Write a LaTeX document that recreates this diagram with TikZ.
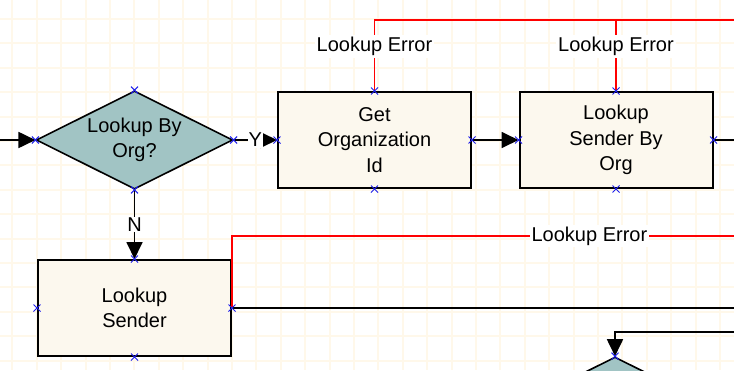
\documentclass[tikz,border=0pt]{standalone}
\usepackage{fontspec}
\setmainfont{Liberation Sans}
\usetikzlibrary{arrows.meta,shapes.geometric}

\definecolor{gridc}{RGB}{255,248,234}
\definecolor{boxfill}{RGB}{252,248,238}
\definecolor{decfill}{RGB}{161,196,196}
\definecolor{markc}{RGB}{30,30,235}
\definecolor{errc}{RGB}{255,0,0}

\begin{document}
\begin{tikzpicture}[x=1pt,y=-1pt,
  font=\fontsize{20}{25.5}\selectfont,
  stepbox/.style={draw=black, line width=2pt, fill=boxfill, rectangle,
    minimum width=193pt, minimum height=96pt, inner sep=0pt, align=center},
  decision/.style={draw=black, line width=1.6pt, fill=decfill, diamond,
    shape aspect=2, minimum width=193pt, minimum height=96pt, inner sep=0pt, align=center},
  flow/.style={draw=black, line width=1.8pt},
  flowarrow/.style={flow, -{Triangle[length=17pt,width=16pt]}},
  errline/.style={draw=errc, line width=1.8pt},
  lbl/.style={fill=white, inner sep=2pt, text=black},
  mark/.pic={\draw[markc, line width=1pt] (-3.5,-3.5) -- (3.5,3.5) (-3.5,3.5) -- (3.5,-3.5);}
]
\useasboundingbox (0,0) rectangle (734,370);
\clip (0,0) rectangle (734,370);

% canvas and grid
\fill[white] (0,0) rectangle (734,370);
\foreach \i in {0,...,29} \draw[gridc, line width=2pt] (12.3+24.4*\i,0) -- (12.3+24.4*\i,370);
\foreach \i in {0,...,15} \draw[gridc, line width=2pt] (0,19+24.4*\i) -- (734,19+24.4*\i);

% shapes
\node[decision] (dec) at (134.5,140)
  {\raisebox{-3pt}{\begin{tabular}{@{}c@{}}Lookup By\\Org?\end{tabular}}};
\node[stepbox] (getorg) at (374.5,140) {Get\\Organization\\Id};
\node[stepbox] (sendorg) at (616,140) {Lookup\\Sender By\\Org};
\node[stepbox] (sender) at (134.5,308) {Lookup\\Sender};
\node[decision] (dec2) at (615,405) {};

% loose ends at the edges of the sheet
\coordinate (inL) at (0,140);
\coordinate (outR) at (734,140);
\coordinate (errTop) at (734,20);
\coordinate (errMid) at (734,236);
\coordinate (outMid) at (734,308);
\coordinate (inLow) at (734,332);

% main flow
\draw[flowarrow] (inL) -- (dec.west);
\draw[flowarrow] (dec.east) -- node[lbl, inner sep=1pt] {Y} (getorg.west);
\draw[flowarrow] (getorg.east) -- (sendorg.west);
\draw[flow] (sendorg.east) -- (outR);
\draw[flowarrow] (dec.south) -- node[lbl, inner sep=1pt] {N} (sender.north);
\draw[flow] (sender.east) -- (outMid);
\draw[flowarrow] (inLow) -| (dec2.north);

% error branches
\draw[errline] (getorg.north) -- node[lbl, pos=0.625] {Lookup Error} (getorg.north |- errTop) -- (errTop);
\draw[errline] (sendorg.north) -- node[lbl, pos=0.625] {Lookup Error} (sendorg.north |- errTop);
\draw[errline] (sender.east) -- (sender.east |- errMid) -- node[lbl, pos=0.712] {Lookup Error} (errMid);

% connection points
\foreach \n in {dec,getorg,sendorg,sender}
  \foreach \a in {north,south,east,west}
    \pic at (\n.\a) {mark};
\pic at (dec2.north) {mark};
\end{tikzpicture}
\end{document}
